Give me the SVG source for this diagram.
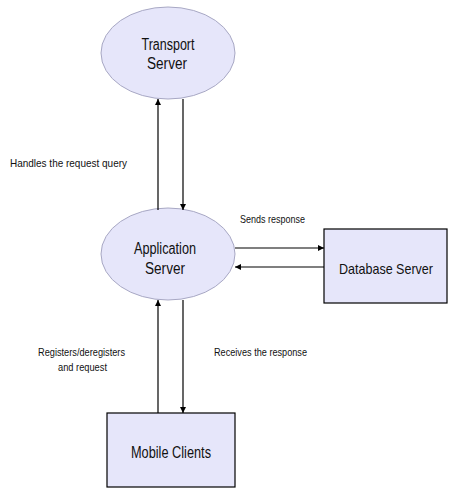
<svg xmlns="http://www.w3.org/2000/svg" width="449" height="488" viewBox="0 0 449 488">
  <defs>
    <style>
      .ell { fill: #e6e6fa; stroke: #a8a8c4; stroke-width: 1; }
      .box { fill: #e6e6fa; stroke: #000; stroke-width: 1.2; }
      .node-label { font-family: "Liberation Sans", Arial, sans-serif; font-size: 16px; fill: #111; text-anchor: middle; }
      .edge-label { font-family: "Liberation Sans", Arial, sans-serif; font-size: 11px; fill: #111; }
      .edge { stroke: #000; stroke-width: 1.2; fill: none; marker-end: url(#arrow); }
    </style>
    <marker id="arrow" viewBox="0 0 10 10" refX="10" refY="5" markerWidth="6" markerHeight="7" markerUnits="userSpaceOnUse" orient="auto">
      <path d="M0,0 L10,5 L0,10 Z" fill="#000"/>
    </marker>
  </defs>
  <rect width="449" height="488" fill="#fff"/>

  <g id="transport-server">
    <ellipse class="ell" cx="168" cy="53" rx="67" ry="46"/>
    <text class="node-label" x="168" y="50" textLength="53" lengthAdjust="spacingAndGlyphs">Transport</text>
    <text class="node-label" x="167" y="69" textLength="40" lengthAdjust="spacingAndGlyphs">Server</text>
  </g>

  <g id="application-server">
    <ellipse class="ell" cx="168" cy="254" rx="67" ry="46"/>
    <text class="node-label" x="165" y="254" textLength="62" lengthAdjust="spacingAndGlyphs">Application</text>
    <text class="node-label" x="165" y="274" textLength="40" lengthAdjust="spacingAndGlyphs">Server</text>
  </g>

  <g id="database-server">
    <rect class="box" x="324" y="229" width="123" height="74"/>
    <text class="node-label" x="386" y="274" style="font-size:15px" textLength="94" lengthAdjust="spacingAndGlyphs">Database Server</text>
  </g>

  <g id="mobile-clients">
    <rect class="box" x="107" y="413" width="128" height="74"/>
    <text class="node-label" x="171" y="458" textLength="80" lengthAdjust="spacingAndGlyphs">Mobile Clients</text>
  </g>

  <g id="connectors">
    <line class="edge" x1="158" y1="210" x2="158" y2="99"/>
    <line class="edge" x1="183" y1="99" x2="183" y2="210"/>
    <line class="edge" x1="235" y1="248" x2="324" y2="248"/>
    <line class="edge" x1="324" y1="267" x2="235" y2="267"/>
    <line class="edge" x1="158" y1="413" x2="158" y2="300"/>
    <line class="edge" x1="183" y1="300" x2="183" y2="413"/>
  </g>

  <g id="labels">
    <text class="edge-label" x="10" y="167" textLength="117" lengthAdjust="spacingAndGlyphs">Handles the request query</text>
    <text class="edge-label" x="240" y="223" textLength="65" lengthAdjust="spacingAndGlyphs">Sends response</text>
    <text class="edge-label" x="38" y="356" textLength="87" lengthAdjust="spacingAndGlyphs">Registers/deregisters</text>
    <text class="edge-label" x="58" y="371" textLength="49" lengthAdjust="spacingAndGlyphs">and request</text>
    <text class="edge-label" x="214" y="356" textLength="93" lengthAdjust="spacingAndGlyphs">Receives the response</text>
  </g>
</svg>
